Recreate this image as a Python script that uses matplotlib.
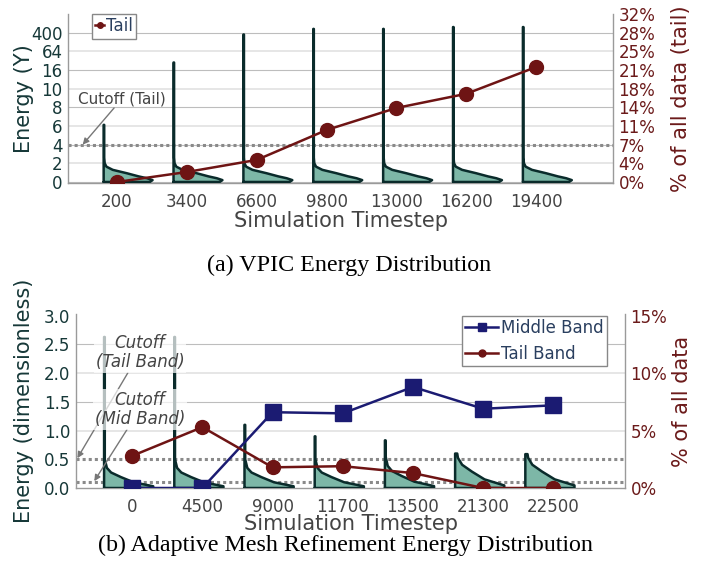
import numpy as np
import matplotlib
matplotlib.use('Agg')
import matplotlib.pyplot as plt

# ---------------- (a) VPIC ----------------
vpic_steps = ['200', '3400', '6600', '9800', '13000', '16200', '19400']
vpic_energy_ticks = ['0', '2', '4', '6', '8', '10', '16', '64', '400']
vpic_pct_ticks = ['0%', '4%', '7%', '11%', '14%', '18%', '21%', '25%', '28%', '32%']
vpic_tail_pct = [0.0, 1.9, 4.2, 9.9, 14.1, 16.8, 21.9]
vpic_violin_top = [3.06, 6.4, 7.9, 8.2, 8.2, 8.3, 8.3]      # in tick-index units
vpic_cutoff = 2                                              # tick index of "4"
vpic_profile_y = [0, 0.1, 0.2, 0.3, 0.47, 0.65, 0.82, 1.0, 1.3]
vpic_profile_w = [0.66, 0.70, 0.62, 0.50, 0.33, 0.13, 0.04, 0.015, 0.008]

# ---------------- (b) AMR ----------------
amr_steps = ['0', '4500', '9000', '11700', '13500', '21300', '22500']
amr_middle_pct = [0.0, 0.0, 6.6, 6.5, 8.8, 6.9, 7.2]
amr_tail_pct = [2.8, 5.3, 1.8, 1.9, 1.3, 0.0, 0.0]
amr_violin_top = [2.63, 2.63, 1.1, 0.9, 0.83, 0.6, 0.59]
amr_violin_stretch = [1.0, 1.0, 1.0, 1.0, 1.1, 1.5, 1.5]
amr_cutoff_tail = 0.5
amr_cutoff_mid = 0.1
amr_profile_y = [0, 0.03, 0.1, 0.19, 0.27, 0.35, 0.5]
amr_profile_w = [0.70, 0.70, 0.42, 0.24, 0.10, 0.04, 0.01]

# ---------------- style ----------------
RED = '#6e1414'
NAVY = '#1b1b72'
TEAL_FILL = '#7db7a7'
TEAL_DARK = '#0a2b2b'
LEFT_COL = '#163838'
RIGHT_COL = '#6b1a1a'
TICK_COL = '#444444'
GRID_DARK = '#bdbdbd'
GRID_LIGHT = '#e4e4e4'
SPINE = '#9a9a9a'
CUT_COL = '#8a8a8a'
LEG_TXT = '#2a3f5f'

fig = plt.figure(figsize=(7.13, 5.80), dpi=100)


def draw_violin(ax, base, top, prof_y, prof_w, stretch=1.0):
    ys = np.array(prof_y, dtype=float) * stretch
    ws = np.array(prof_w, dtype=float)
    keep = ys < top
    w_top = np.interp(top, ys, ws) if top < ys[-1] else ws[-1]
    y_curve = np.concatenate([ys[keep], [top]])
    w_curve = np.concatenate([ws[keep], [w_top]])
    px = [base, base] + list(base + w_curve[::-1])
    py = [0, top] + list(y_curve[::-1])
    ax.fill(px, py, color=TEAL_FILL, lw=0, zorder=2)
    ax.plot(px + [base], py + [0], color=TEAL_DARK, lw=1.8, zorder=3,
            solid_joinstyle='round', solid_capstyle='round')


def style_axes(ax, ax2):
    ax.spines['top'].set_visible(False)
    ax.spines['right'].set_visible(False)
    for s in ['top', 'left', 'bottom']:
        ax2.spines[s].set_visible(False)
    for s in ['left', 'bottom']:
        ax.spines[s].set_color(SPINE)
        ax.spines[s].set_linewidth(1.0)
    ax2.spines['right'].set_color(SPINE)
    ax2.spines['right'].set_linewidth(1.0)
    ax.tick_params(axis='both', length=0)
    ax2.tick_params(axis='both', length=0)
    ax.tick_params(axis='x', pad=7, labelsize=12, labelcolor=TICK_COL)
    ax.tick_params(axis='y', pad=4, labelsize=12, labelcolor=LEFT_COL)
    ax2.tick_params(axis='y', pad=4, labelsize=12, labelcolor=RIGHT_COL)


# ======================= (a) =======================
ax = fig.add_axes([0.0954, 0.6845, 0.7644, 0.2914])
ax2 = ax.twinx()
style_axes(ax, ax2)
nA = len(vpic_steps)
xA = np.arange(nA)
ax.set_xlim(-0.70, 7.10)
ax.set_ylim(-0.054, 9)
ax2.set_ylim(-0.054 * 32 / 9, 32)

for i in range(len(vpic_energy_ticks)):
    ax.axhline(i, color=GRID_DARK if i % 2 == 0 else GRID_LIGHT,
               lw=0.8 if i % 2 == 0 else 1.3, zorder=0)
ax.axhline(vpic_cutoff, color=CUT_COL, lw=2.2, ls=(0, (1, 1)), zorder=1)

for i in range(nA):
    draw_violin(ax, xA[i] - 0.19, vpic_violin_top[i], vpic_profile_y, vpic_profile_w)

ax.set_yticks(range(len(vpic_energy_ticks)))
ax.set_yticklabels(vpic_energy_ticks)
ax.set_xticks(xA)
ax.set_xticklabels(vpic_steps)
ax2.set_yticks(np.linspace(0, 32, len(vpic_pct_ticks)))
ax2.set_yticklabels(vpic_pct_ticks)

ax2.plot(xA, vpic_tail_pct, color=RED, lw=1.8, marker='o', ms=10, label='Tail', zorder=5)

ax.set_ylabel('Energy (Y)', fontsize=15, color=LEFT_COL)
ax.yaxis.set_label_coords(-0.062, 0.5)
ax2.set_ylabel('% of all data (tail)', fontsize=15, color=RIGHT_COL, rotation=90)
ax2.yaxis.set_label_coords(1.106, 0.5)
ax.set_xlabel('Simulation Timestep', fontsize=15, color=TICK_COL)
ax.xaxis.set_label_coords(0.5, -0.166)

ax.annotate('Cutoff (Tail)', xy=(-0.49, vpic_cutoff), xytext=(0.07, 4.45),
            ha='center', va='center', fontsize=11, color='#444444',
            arrowprops=dict(arrowstyle='-|>', color='#777777', lw=1.0, mutation_scale=9,
                            shrinkA=0, shrinkB=0),
            bbox=dict(boxstyle='square,pad=0.1', fc='white', ec='none', alpha=0.0),
            zorder=6)

legA = ax2.legend(loc='upper left', bbox_to_anchor=(0.044, 1.0), borderaxespad=0,
                  fontsize=12, handlelength=0.5, handletextpad=0.15, borderpad=0.2,
                  markerscale=0.4, fancybox=False, framealpha=1.0, edgecolor='#888888')
legA.get_frame().set_linewidth(1.0)
for t in legA.get_texts():
    t.set_color(LEG_TXT)

# ======================= (b) =======================
bx = fig.add_axes([0.1066, 0.1586, 0.770, 0.300])
bx2 = bx.twinx()
style_axes(bx, bx2)
nB = len(amr_steps)
xB = np.arange(nB)
bx.set_xlim(-0.80, 7.02)
bx.set_ylim(0, 3.03)
bx2.set_ylim(0, 15.15)

for v in [1.5, 2.5]:
    bx.axhline(v, color=GRID_DARK, lw=0.8, zorder=0)
for v in [1.0, 2.0]:
    bx.axhline(v, color=GRID_LIGHT, lw=1.3, zorder=0)
bx.axhline(amr_cutoff_tail, color=CUT_COL, lw=2.2, ls=(0, (1, 1)), zorder=1)
bx.axhline(amr_cutoff_mid, color=CUT_COL, lw=2.2, ls=(0, (1, 1)), zorder=1)

for i in range(nB):
    draw_violin(bx, xB[i] - 0.40, amr_violin_top[i], amr_profile_y, amr_profile_w,
                amr_violin_stretch[i])

bx.set_yticks([0, 0.5, 1.0, 1.5, 2.0, 2.5, 3.0])
bx.set_yticklabels(['0.0', '0.5', '1.0', '1.5', '2.0', '2.5', '3.0'])
bx.set_xticks(xB)
bx.set_xticklabels(amr_steps)
bx2.set_yticks([0, 5, 10, 15])
bx2.set_yticklabels(['0%', '5%', '10%', '15%'])

bx2.plot(xB, amr_middle_pct, color=NAVY, lw=1.8, marker='s', ms=11, label='Middle Band', zorder=5)
bx2.plot(xB, amr_tail_pct, color=RED, lw=1.8, marker='o', ms=10, label='Tail Band', zorder=5)

bx.set_ylabel('Energy (dimensionless)', fontsize=15, color=LEFT_COL)
bx.yaxis.set_label_coords(-0.0765, 0.5)
bx2.set_ylabel('% of all data', fontsize=15, color=RIGHT_COL, rotation=90)
bx2.yaxis.set_label_coords(1.086, 0.5)
bx.set_xlabel('Simulation Timestep', fontsize=15, color=TICK_COL)
bx.xaxis.set_label_coords(0.5, -0.152)

ann_kw = dict(ha='center', va='center', fontsize=12, color='#444444', style='italic',
              linespacing=1.05,
              arrowprops=dict(arrowstyle='-|>', color='#777777', lw=1.0, mutation_scale=9,
                              shrinkA=0, shrinkB=0),
              bbox=dict(boxstyle='square,pad=0.12', fc='white', ec='none', alpha=0.7),
              zorder=6)
bx.annotate('Cutoff\n(Tail Band)', xy=(-0.78, 0.52), xytext=(0.11, 2.36), **ann_kw)
bx.annotate('Cutoff\n(Mid Band)', xy=(-0.54, 0.12), xytext=(0.11, 1.37), **ann_kw)

legB = bx2.legend(loc='upper right', bbox_to_anchor=(0.967, 0.989), borderaxespad=0,
                  fontsize=12, handlelength=2.0, handletextpad=0.15, borderpad=0.2,
                  labelspacing=0.45, markerscale=0.5, fancybox=False, framealpha=1.0,
                  edgecolor='#888888')
legB.get_frame().set_linewidth(1.0)
for t in legB.get_texts():
    t.set_color(LEG_TXT)

# ---------------- captions ----------------
fig.text(349 / 713, 1 - 265 / 580, '(a) VPIC Energy Distribution',
         family='Liberation Serif', fontsize=17.3, ha='center', va='center', color='black')
fig.text(346 / 713, 1 - 545 / 580, '(b) Adaptive Mesh Refinement Energy Distribution',
         family='Liberation Serif', fontsize=17.3, ha='center', va='center', color='black')

fig.savefig('out.png', dpi=100)
